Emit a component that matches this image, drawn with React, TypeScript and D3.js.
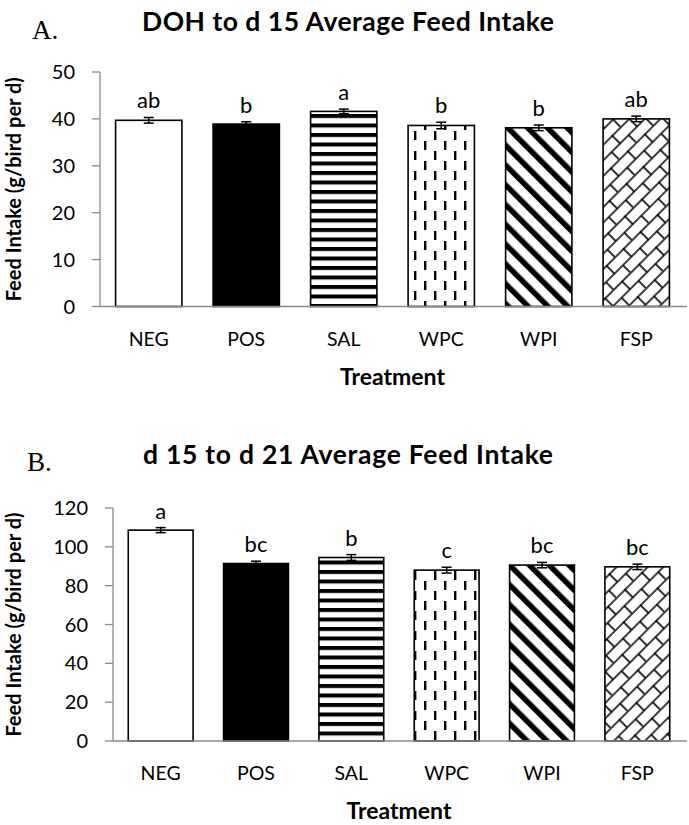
import React from "react";
import * as d3 from "d3";

// treatments shared by both panels
const treatments = ["NEG", "POS", "SAL", "WPC", "WPI", "FSP"];

// DOH to d 15
const intakeEarly = [39.7, 38.9, 41.6, 38.6, 38.1, 40.0];
const semEarly = [0.6, 0.5, 0.5, 0.7, 0.6, 0.6];
const lettersEarly = ["ab", "b", "a", "b", "b", "ab"];
const ticksEarly = [0, 10, 20, 30, 40, 50];

// d 15 to d 21
const intakeLate = [108.6, 91.4, 94.5, 88.0, 90.6, 89.7];
const semLate = [1.3, 1.2, 1.5, 1.5, 1.4, 1.4];
const lettersLate = ["a", "bc", "b", "c", "bc", "bc"];
const ticksLate = [0, 20, 40, 60, 80, 100, 120];

const fills = ["#fff", "#000", "url(#hstripe)", "url(#vdash)", "url(#diag)", "url(#brick)"];
const font = "Lato, 'Open Sans', sans-serif";
const axisGray = "#8a8a8a";

function Panel(props) {
  const { title, tag, values, sem, letters, ticks, left, top, bottom } = props;
  const right = 685;

  const x = d3.scaleBand().domain(treatments).range([left, right]).paddingInner(0.32).paddingOuter(0.16);
  const y = d3.scaleLinear().domain([0, ticks[ticks.length - 1]]).range([bottom, top]);

  return (
    <g>
      <text x={tag.x} y={tag.y} fontFamily="'Liberation Serif', 'Times New Roman', serif" fontSize={27}>{tag.text}</text>
      <text x={348} y={title.y} textAnchor="middle" fontFamily={font} fontWeight="bold" fontSize={26.5}
        textLength={title.width} lengthAdjust="spacing">{title.text}</text>

      {/* y axis */}
      <line x1={left} x2={left} y1={y(ticks[ticks.length - 1])} y2={bottom} stroke={axisGray} strokeWidth={1.3} />
      {ticks.map((t) => (
        <g key={t}>
          <line x1={left - 8} x2={left} y1={y(t)} y2={y(t)} stroke={axisGray} strokeWidth={1.3} />
          <text x={left - 25} y={y(t)} dy="0.35em" textAnchor="end" fontFamily={font} fontSize={20}>{t}</text>
        </g>
      ))}
      <text
        transform={`translate(21, ${(top + bottom) / 2}) rotate(-90)`}
        textAnchor="middle"
        fontFamily={font}
        fontWeight="bold"
        fontSize={20}
      >
        Feed Intake (g/bird per d)
      </text>

      {/* bars */}
      {treatments.map((c, i) => {
        const bx = x(c);
        const cx = bx + x.bandwidth() / 2;
        const hi = y(values[i] + sem[i]);
        const lo = y(values[i] - sem[i]);
        return (
          <g key={c}>
            <rect x={bx} y={y(values[i])} width={x.bandwidth()} height={bottom - y(values[i])}
              fill={fills[i]} stroke="#000" strokeWidth={1.6} />
            <line x1={cx} x2={cx} y1={hi} y2={lo} stroke="#000" strokeWidth={1.5} />
            <line x1={cx - 5} x2={cx + 5} y1={hi} y2={hi} stroke="#000" strokeWidth={1.5} />
            <line x1={cx - 5} x2={cx + 5} y1={lo} y2={lo} stroke="#000" strokeWidth={1.5} />
            <text x={cx} y={hi - 9} textAnchor="middle" fontFamily={font} fontSize={22}>{letters[i]}</text>
            <text x={cx} y={bottom + 39} textAnchor="middle" fontFamily={font} fontSize={19.5}>{c}</text>
          </g>
        );
      })}

      {/* baseline */}
      <line x1={left} x2={right + 2} y1={bottom} y2={bottom} stroke={axisGray} strokeWidth={1.5} />
      <text x={(left + right) / 2} y={bottom + 78} textAnchor="middle" fontFamily={font} fontWeight="bold" fontSize={23}>Treatment</text>
    </g>
  );
}

export default function App() {
  return (
    <svg width={689} height={825} style={{ position: "absolute", left: 0, top: 0, background: "#fff" }}>
      <defs>
        <pattern id="hstripe" patternUnits="userSpaceOnUse" width={10} height={9.5}>
          <rect width={10} height={9.5} fill="#fff" />
          <rect y={0} width={10} height={4} fill="#000" />
        </pattern>
        <pattern id="vdash" patternUnits="userSpaceOnUse" width={20} height={20}>
          <rect width={20} height={20} fill="#fff" />
          <rect x={4} y={1} width={2.4} height={9} fill="#000" />
          <rect x={14} y={11} width={2.4} height={9} fill="#000" />
        </pattern>
        <pattern id="diag" patternUnits="userSpaceOnUse" width={14} height={14} patternTransform="rotate(-45)">
          <rect width={14} height={14} fill="#fff" />
          <rect x={0} width={5.5} height={14} fill="#000" />
        </pattern>
        <pattern id="brick" patternUnits="userSpaceOnUse" width={24} height={22} patternTransform="rotate(-45)">
          <rect width={24} height={22} fill="#fff" />
          <path d="M0 1H24M0 12H24M1 0V12M13 12V22" stroke="#000" strokeWidth={1.6} fill="none" />
        </pattern>
      </defs>

      <Panel
        title={{ text: "DOH to d 15 Average Feed Intake", y: 31, width: 412 }}
        tag={{ text: "A.", x: 32, y: 39 }}
        values={intakeEarly}
        sem={semEarly}
        letters={lettersEarly}
        ticks={ticksEarly}
        left={100}
        top={72}
        bottom={306.5}
      />
      <Panel
        title={{ text: "d 15 to d 21 Average Feed Intake", y: 464, width: 410 }}
        tag={{ text: "B.", x: 27, y: 471 }}
        values={intakeLate}
        sem={semLate}
        letters={lettersLate}
        ticks={ticksLate}
        left={113}
        top={508}
        bottom={741}
      />
    </svg>
  );
}
